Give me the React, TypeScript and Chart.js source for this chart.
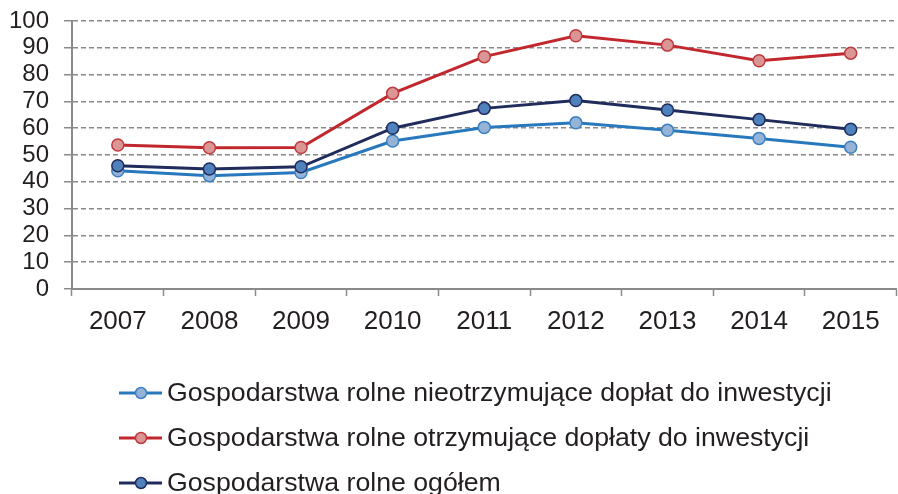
import React, { useEffect, useRef } from "react";
import { Chart, registerables } from "chart.js";

Chart.register(...registerables);

const years = ["2007", "2008", "2009", "2010", "2011", "2012", "2013", "2014", "2015"];
const nieotrzymujace = [44.1, 42.3, 43.5, 55.2, 60.3, 62.0, 59.2, 56.2, 52.9];
const otrzymujace = [53.7, 52.7, 52.8, 73.0, 86.7, 94.5, 91.0, 85.2, 88.0];
const ogolem = [46.0, 44.8, 45.6, 60.0, 67.4, 70.3, 66.8, 63.2, 59.6];
const seriesLabels = [
  "Gospodarstwa rolne nieotrzymujące dopłat do inwestycji",
  "Gospodarstwa rolne otrzymujące dopłaty do inwestycji",
  "Gospodarstwa rolne ogółem",
];
const yTicks = [0, 10, 20, 30, 40, 50, 60, 70, 80, 90, 100];

const FONT = "'Liberation Sans', Arial, sans-serif";
const TEXT = "#231f20";
const GRID = "#8a8a8a";

const legendPlugin = {
  id: "customLegend",
  afterDraw(chart: any) {
    const ctx = chart.ctx;
    const ds = chart.data.datasets;
    ctx.save();
    ds.forEach((d: any, i: number) => {
      const y = 393 + i * 45;
      ctx.strokeStyle = d.borderColor;
      ctx.lineWidth = 3;
      ctx.beginPath();
      ctx.moveTo(119, y);
      ctx.lineTo(162, y);
      ctx.stroke();
      ctx.beginPath();
      ctx.arc(141, y, 5.5, 0, Math.PI * 2);
      ctx.fillStyle = d.pointBackgroundColor;
      ctx.fill();
      ctx.lineWidth = 1.5;
      ctx.strokeStyle = d.pointBorderColor;
      ctx.stroke();
      ctx.fillStyle = TEXT;
      ctx.font = `26.7px ${FONT}`;
      ctx.textBaseline = "middle";
      ctx.textAlign = "left";
      ctx.fillText(d.label, 167, y + 1);
    });
    ctx.restore();
  },
};

export default function App() {
  const ref = useRef<HTMLCanvasElement | null>(null);
  useEffect(() => {
    document.body.style.margin = "0";
    document.body.style.overflow = "hidden";
    if (!ref.current) return;
    const chart = new Chart(ref.current, {
      type: "line",
      data: {
        labels: years,
        datasets: [
          {
            label: seriesLabels[0],
            data: nieotrzymujace,
            borderColor: "#2878bd",
            pointBackgroundColor: "#95b3d7",
            pointBorderColor: "#3b80c2",
            order: 2,
          },
          {
            label: seriesLabels[1],
            data: otrzymujace,
            borderColor: "#c1272d",
            pointBackgroundColor: "#d99694",
            pointBorderColor: "#c0393f",
            order: 1,
          },
          {
            label: seriesLabels[2],
            data: ogolem,
            borderColor: "#1f2c5c",
            pointBackgroundColor: "#4f81bd",
            pointBorderColor: "#1f2c5c",
            order: 0,
          },
        ].map((d) => ({
          ...d,
          borderWidth: 3,
          pointRadius: 6,
          pointBorderWidth: 1.5,
          tension: 0,
          fill: false,
        })),
      },
      options: {
        animation: false,
        responsive: true,
        maintainAspectRatio: false,
        layout: { padding: { top: 21, left: 0, right: 0, bottom: 0 } },
        plugins: {
          legend: { display: false },
          tooltip: { enabled: false },
        },
        scales: {
          x: {
            offset: true,
            afterFit: (s: any) => {
              s.height = 494 - 289;
              s.paddingLeft = 0;
              s.paddingRight = 0;
            },
            grid: {
              offset: true,
              drawOnChartArea: false,
              drawTicks: true,
              tickLength: 7,
              tickColor: GRID,
              tickWidth: 1.5,
            },
            border: { display: true, color: GRID, width: 2 },
            ticks: {
              color: TEXT,
              font: { family: FONT, size: 26 },
              padding: 10,
              maxRotation: 0,
            },
          },
          y: {
            min: 0,
            max: 100,
            afterFit: (s: any) => {
              s.width = 72;
              s.paddingTop = 0;
              s.paddingBottom = 0;
            },
            afterBuildTicks: (s: any) => {
              s.ticks = yTicks.map((v) => ({ value: v }));
            },
            grid: {
              color: GRID,
              lineWidth: 1.5,
              drawTicks: true,
              tickLength: 8,
              tickColor: GRID,
              tickWidth: 1.5,
              tickBorderDash: [],
            },
            border: { display: true, color: GRID, width: 2, dash: [5, 3] },
            ticks: {
              color: TEXT,
              font: { family: FONT, size: 24 },
              padding: 15,
              autoSkip: false,
            },
          },
        },
      },
      plugins: [legendPlugin],
    });
    return () => chart.destroy();
  }, []);
  return (
    <div style={{ width: 898, height: 494, overflow: "hidden", position: "relative" }}>
      <div style={{ width: 904, height: 494, position: "absolute", left: 0, top: 0 }}>
        <canvas ref={ref} />
      </div>
    </div>
  );
}
